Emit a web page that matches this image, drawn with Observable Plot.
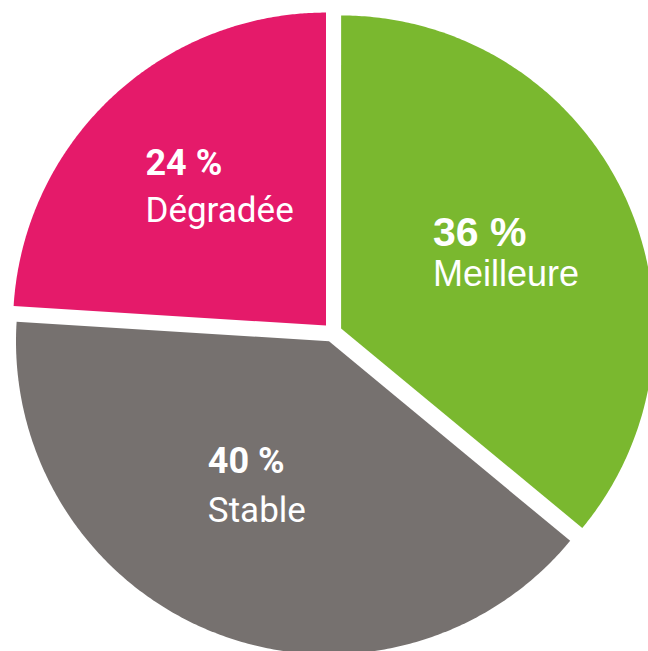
<!DOCTYPE html>
<html><head><meta charset="utf-8">
<script src="https://cdn.jsdelivr.net/npm/d3@7"></script>
<script src="https://cdn.jsdelivr.net/npm/@observablehq/plot@0.6"></script>
<style>html,body{margin:0;padding:0;overflow:hidden;background:#fff}#chart svg{display:block}</style>
</head><body><div id="chart"></div>
<script>
// ---- data ----
const categories = ["Meilleure", "Stable", "Dégradée"];
const values = [36, 40, 24];
const valueLabels = ["36 %", "40 %", "24 %"];
const colors = ["#7ab82f", "#76716f", "#e51a6a"];

// ---- layout (pixels) ----
const W = 648, H = 651, CX = 332, CY = 332, R = 313, EXPLODE = 9.5, LABEL_R = 0.6;
const labelStyle = {
  "Meilleure": {font: "'Liberation Sans', Arial, sans-serif", valueSize: 41, nameSize: 36, nameWeight: 400, dx: -78, valueDy: -2, nameDy: 38},
  "Stable":    {font: "Roboto, sans-serif", valueSize: 36, nameSize: 35, nameWeight: 400, dx: -52, valueDy: -43, nameDy: 6},
  "Dégradée":  {font: "Roboto, sans-serif", valueSize: 36, nameSize: 35, nameWeight: 400, dx: -52, valueDy: -14, nameDy: 33}
};

const rows = categories.map((c, i) => ({category: c, value: values[i], label: valueLabels[i]}));
const arcs = d3.pie().sort(null).value(d => d.value)(rows);
const e = EXPLODE / R;
const slices = arcs.map(p => {
  const mid = (p.startAngle + p.endAngle) / 2;
  return {...p.data, start: p.startAngle, end: p.endAngle, mid, ox: e * Math.sin(mid), oy: e * Math.cos(mid)};
});

// outline of each wedge (geometry of the arc)
const outline = [];
for (const s of slices) {
  outline.push({category: s.category, x: s.ox, y: s.oy});
  const n = 240;
  for (let j = 0; j <= n; j++) {
    const a = s.start + (s.end - s.start) * j / n;
    outline.push({category: s.category, x: s.ox + Math.sin(a), y: s.oy + Math.cos(a)});
  }
}

const textMarks = [];
for (const s of slices) {
  const st = labelStyle[s.category];
  const pos = {x: d => d.ox + LABEL_R * Math.sin(d.mid), y: d => d.oy + LABEL_R * Math.cos(d.mid)};
  textMarks.push(Plot.text([s], {...pos, text: "label", textAnchor: "start", lineAnchor: "bottom",
    dx: st.dx, dy: st.valueDy, fill: "white", fontFamily: st.font, fontSize: st.valueSize, fontWeight: 700}));
  textMarks.push(Plot.text([s], {...pos, text: "category", textAnchor: "start", lineAnchor: "bottom",
    dx: st.dx, dy: st.nameDy, fill: "white", fontFamily: st.font, fontSize: st.nameSize, fontWeight: st.nameWeight}));
}

const chart = Plot.plot({
  width: W, height: H, margin: 0,
  x: {domain: [-CX / R, (W - CX) / R], axis: null},
  y: {domain: [-(H - CY) / R, CY / R], axis: null},
  color: {domain: categories, range: colors},
  marks: [
    Plot.line(outline, {x: "x", y: "y", z: "category", fill: "category", stroke: "none", clip: true}),
    ...textMarks
  ]
});
document.getElementById("chart").appendChild(chart);
</script>
</body></html>
